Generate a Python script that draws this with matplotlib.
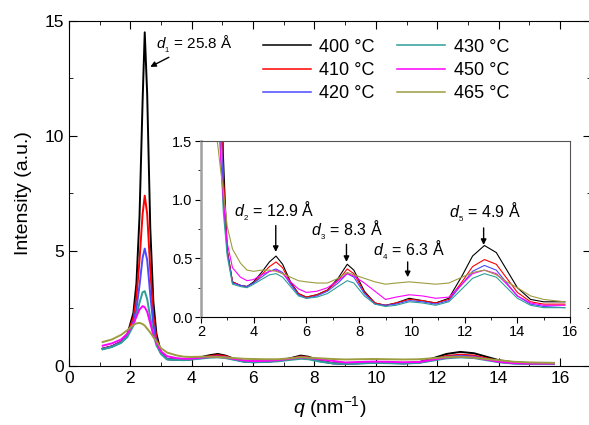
import matplotlib
matplotlib.use("Agg")
import matplotlib.pyplot as plt
from matplotlib.ticker import MultipleLocator, FormatStrFormatter

plt.rcParams["font.family"] = ["Liberation Sans", "DejaVu Sans"]
plt.rcParams["mathtext.fontset"] = "custom"
plt.rcParams["mathtext.rm"] = "Liberation Sans"
plt.rcParams["mathtext.it"] = "Liberation Sans:italic"
plt.rcParams["mathtext.default"] = "regular"

q = [1.1, 1.4, 1.7, 1.9, 2.1, 2.2, 2.3, 2.4, 2.47, 2.55, 2.65, 2.75, 2.85,
     3.0, 3.2, 3.5, 3.75, 4.0, 4.3, 4.6, 4.85, 5.1, 5.4, 5.7, 6.0, 6.4, 6.8,
     7.2, 7.55, 7.8, 8.2, 8.6, 9.0, 9.4, 9.9, 10.4, 10.9, 11.4, 11.9, 12.3,
     12.75, 13.2, 13.6, 14.0, 14.5, 15.0, 15.8]

i400 = [0.75, 0.85, 1.05, 1.35, 2.3, 3.6, 6.5, 11.5, 14.5, 11.8, 6.0, 2.8, 1.4,
        0.57, 0.30, 0.27, 0.26, 0.30, 0.38, 0.47, 0.52, 0.45, 0.30, 0.20, 0.17,
        0.19, 0.23, 0.33, 0.45, 0.40, 0.22, 0.12, 0.10, 0.12, 0.16, 0.14, 0.12,
        0.16, 0.35, 0.52, 0.61, 0.55, 0.40, 0.25, 0.15, 0.13, 0.13]
i410 = [0.75, 0.85, 1.05, 1.35, 2.1, 3.0, 4.6, 6.6, 7.4, 6.6, 4.2, 2.2, 1.2,
        0.57, 0.30, 0.27, 0.26, 0.29, 0.36, 0.43, 0.47, 0.42, 0.29, 0.20, 0.17,
        0.19, 0.23, 0.31, 0.41, 0.37, 0.21, 0.12, 0.10, 0.12, 0.15, 0.14, 0.12,
        0.15, 0.30, 0.43, 0.49, 0.45, 0.33, 0.21, 0.13, 0.11, 0.11]
i420 = [0.74, 0.84, 1.03, 1.3, 1.9, 2.5, 3.5, 4.7, 5.1, 4.6, 3.1, 1.8, 1.0,
        0.55, 0.29, 0.27, 0.26, 0.29, 0.34, 0.39, 0.41, 0.38, 0.28, 0.19, 0.16,
        0.18, 0.22, 0.29, 0.37, 0.34, 0.20, 0.11, 0.10, 0.11, 0.14, 0.13, 0.11,
        0.14, 0.28, 0.39, 0.44, 0.40, 0.29, 0.18, 0.11, 0.09, 0.08]
i430 = [0.72, 0.82, 1.0, 1.25, 1.75, 2.2, 2.75, 3.2, 3.25, 2.9, 2.1, 1.4, 0.9,
        0.52, 0.28, 0.26, 0.25, 0.28, 0.32, 0.36, 0.37, 0.34, 0.26, 0.18, 0.16,
        0.17, 0.20, 0.26, 0.31, 0.29, 0.18, 0.11, 0.09, 0.10, 0.13, 0.12, 0.10,
        0.13, 0.24, 0.33, 0.37, 0.34, 0.25, 0.16, 0.10, 0.08, 0.08]
i450 = [0.88, 0.98, 1.15, 1.4, 1.85, 2.15, 2.45, 2.6, 2.55, 2.35, 1.85, 1.35, 1.0,
        0.63, 0.42, 0.34, 0.31, 0.32, 0.36, 0.39, 0.40, 0.37, 0.30, 0.24, 0.21,
        0.22, 0.25, 0.31, 0.37, 0.35, 0.29, 0.22, 0.15, 0.17, 0.19, 0.18, 0.16,
        0.17, 0.28, 0.37, 0.40, 0.37, 0.28, 0.18, 0.12, 0.10, 0.10]
i465 = [1.04, 1.15, 1.35, 1.55, 1.78, 1.85, 1.87, 1.82, 1.75, 1.62, 1.45, 1.25, 1.08,
        0.77, 0.58, 0.46, 0.40, 0.39, 0.40, 0.40, 0.39, 0.37, 0.34, 0.31, 0.30,
        0.29, 0.29, 0.33, 0.38, 0.36, 0.33, 0.30, 0.28, 0.29, 0.30, 0.29, 0.28,
        0.29, 0.34, 0.38, 0.40, 0.36, 0.30, 0.25, 0.18, 0.15, 0.13]

labels = ["400 °C", "410 °C", "420 °C", "430 °C", "450 °C", "465 °C"]
colors = ["black", "#ff0000", "#4a4aff", "#2e9e96", "#ff00ff", "#9c9c40"]
series = [i400, i410, i420, i430, i450, i465]

# peak annotations in the inset: (value, subscript, text x, text y, arrow x, arrow top, arrow tip)
peaks = [("12.9", "2", 4.8, 0.90, 4.84, 0.78, 0.555),
         ("8.3", "3", 7.55, 0.74, 7.52, 0.62, 0.47),
         ("6.3", "4", 9.9, 0.57, 9.84, 0.47, 0.34),
         ("4.9", "5", 12.75, 0.89, 12.72, 0.76, 0.615)]

fig = plt.figure(figsize=(5.89, 4.25), dpi=100)
ax = fig.add_axes([0.117, 0.139, 0.886, 0.812])
for y, c, lab in zip(series, colors, labels):
    ax.plot(q, y, color=c, lw=1.4, label=lab)
ax.set_xlim(0, 17)
ax.set_ylim(0, 15)
ax.xaxis.set_major_locator(MultipleLocator(2))
ax.xaxis.set_minor_locator(MultipleLocator(1))
ax.yaxis.set_major_locator(MultipleLocator(5))
ax.yaxis.set_minor_locator(MultipleLocator(2.5))
ax.tick_params(which="both", direction="in", top=True, right=True, labelsize=12.5)
ax.tick_params(which="major", length=6)
ax.tick_params(which="minor", length=3)
ax.set_xticks(range(0, 17, 2))
ax.set_xlabel(r"$\mathit{q}$ (nm$^{-1}$)", fontsize=14, labelpad=6)
ax.set_ylabel("Intensity (a.u.)", fontsize=14, labelpad=9)
leg = ax.legend(ncol=2, frameon=False, fontsize=13, loc="upper left",
                bbox_to_anchor=(0.34, 0.995), handlelength=2.7, handletextpad=0.45,
                columnspacing=1.2, labelspacing=0.35)
for h in leg.get_lines():
    h.set_linewidth(1.1)
ax.annotate(r"$\mathit{d}_{_1}$ = 25.8 Å", xy=(2.65, 13.0), xytext=(2.85, 13.8),
            fontsize=11, arrowprops=dict(arrowstyle="-|>", color="black", lw=1.0,
                                         mutation_scale=8, shrinkA=0, shrinkB=0))

ins = fig.add_axes([0.341, 0.254, 0.627, 0.414])
for y, c in zip(series, colors):
    ins.plot(q, y, color=c, lw=0.8)
ins.set_xlim(2, 16)
ins.set_ylim(0, 1.5)
ins.xaxis.set_major_locator(MultipleLocator(2))
ins.xaxis.set_minor_locator(MultipleLocator(1))
ins.yaxis.set_major_locator(MultipleLocator(0.5))
ins.yaxis.set_minor_locator(MultipleLocator(0.25))
ins.yaxis.set_major_formatter(FormatStrFormatter("%.1f"))
ins.tick_params(which="both", direction="out", labelsize=10.5, pad=2)
ins.tick_params(which="major", length=4)
ins.tick_params(which="minor", length=2)
ins.spines["left"].set_color("#a0a0a0")
ins.spines["left"].set_linewidth(1.8)
ins.spines["top"].set_color("#555555")
ins.spines["right"].set_color("#555555")
for val, sub, tx, ty, axx, ay0, ay1 in peaks:
    ins.text(tx, ty, r"$\mathit{d}_{_%s}$ = %s Å" % (sub, val), fontsize=11.5,
             ha="center", va="center")
    ins.annotate("", xy=(axx, ay1), xytext=(axx, ay0),
                 arrowprops=dict(arrowstyle="-|>", color="black", lw=1.0,
                                 mutation_scale=8, shrinkA=0, shrinkB=0))

fig.savefig("out.png", dpi=100)
